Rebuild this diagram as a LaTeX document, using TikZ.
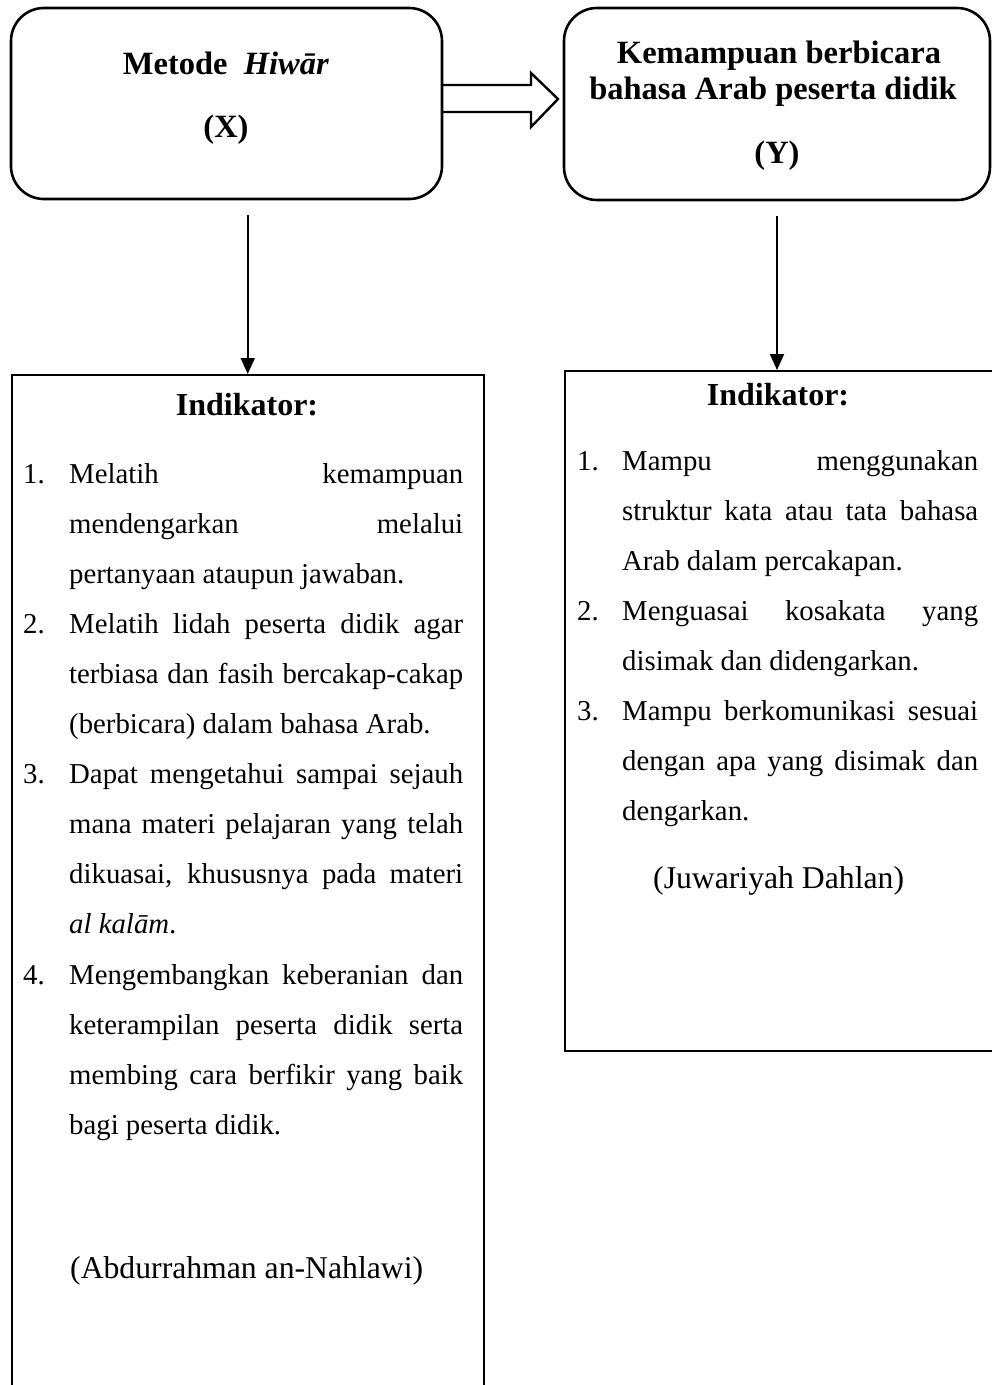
\documentclass[tikz,border=0pt]{standalone}
\usepackage{fontspec}
\setmainfont{Liberation Serif}
\usetikzlibrary{arrows.meta}
\tikzset{
  topbox/.style={draw, line width=2.6pt, rounded corners=33pt, inner sep=0pt},
  indbox/.style={draw, line width=1.5pt, inner sep=0pt},
  ttl/.style={font=\fontsize{32.5}{36}\selectfont\bfseries, anchor=base, inner sep=0pt},
  indttl/.style={font=\fontsize{32}{36}\selectfont\bfseries, anchor=base, inner sep=0pt},
  num/.style={font=\fontsize{28.8}{50.1}\selectfont, anchor=base west, inner sep=0pt},
  itemL/.style={font=\fontsize{28.8}{50.1}\selectfont, anchor=base west, inner sep=0pt, text width=394pt, align=justify},
  itemR/.style={font=\fontsize{28.8}{50}\selectfont, anchor=base west, inner sep=0pt, text width=356pt, align=justify},
  src/.style={font=\fontsize{31.7}{36}\selectfont, anchor=base west, inner sep=0pt},
  arr/.style={line width=2pt, -{Triangle[width=14pt,length=16pt]}},
  dblarr/.style={draw, line width=2.4pt, line join=miter}
}
\begin{document}
\tolerance=10000 \hbadness=10000 \hyphenpenalty=10000 \exhyphenpenalty=10000
\begin{tikzpicture}[x=1pt,y=-1pt]
\useasboundingbox (0,0) rectangle (992,1385);
% top boxes
\node[topbox, minimum width=431pt, minimum height=191pt] (topL) at (226.5,103.5) {};
\node[topbox, minimum width=426pt, minimum height=192pt] (topR) at (777,104) {};
\node[ttl] (tL1) at (226,74) {Metode\ \ \textit{Hiwār}};
\node[ttl] (tL2) at (226,137) {(X)};
\node[ttl] (tR1) at (779,63) {Kemampuan berbicara};
\node[ttl] (tR2) at (773,99) {bahasa Arab peserta didik};
\node[ttl] (tR3) at (777,163) {(Y)};
% double arrow
\draw[dblarr] (443,85) -- (531,85) -- (531,73) -- (558,99) -- (531,127) -- (531,112) -- (443,112);
% indicator boxes
\node[indbox, minimum width=472pt, minimum height=1030pt, anchor=north west] (indL) at (11,374) {};
\node[indbox, minimum width=432pt, minimum height=680pt, anchor=north west] (indR) at (564,370) {};
% arrows
\draw[arr, shorten <=15pt] (indL.north |- topL.south) -- (indL.north);
\draw[arr, shorten <=15pt] (topR.south) -- (topR.south |- indR.north);
% left content
\node[indttl] (hL) at (247,415) {Indikator:};
\node[num] (nL1) at (23,483) {1.};
\node[itemL] (iL1) at (69,483) {Melatih kemampuan\linebreak mendengarkan melalui\linebreak pertanyaan ataupun jawaban.};
\node[num] (nL2) at (23,633.3) {2.};
\node[itemL] (iL2) at (69,633.3) {Melatih lidah peserta didik agar\linebreak terbiasa dan fasih bercakap-cakap\linebreak (berbicara) dalam bahasa Arab.};
\node[num] (nL3) at (23,783.6) {3.};
\node[itemL] (iL3) at (69,783.6) {Dapat mengetahui sampai sejauh\linebreak mana materi pelajaran yang telah\linebreak dikuasai, khususnya pada materi\linebreak \textit{al kalām}.};
\node[num] (nL4) at (23,984) {4.};
\node[itemL] (iL4) at (69,984) {Mengembangkan keberanian dan\linebreak keterampilan peserta didik serta\linebreak membing cara berfikir yang baik\linebreak bagi peserta didik.};
\node[src] (sL) at (70,1278) {(Abdurrahman an-Nahlawi)};
% right content
\node[indttl] (hR) at (778,405) {Indikator:};
\node[num] (nR1) at (577,470) {1.};
\node[itemR] (iR1) at (622,470) {Mampu menggunakan\linebreak struktur kata atau tata bahasa\linebreak Arab dalam percakapan.};
\node[num] (nR2) at (577,620) {2.};
\node[itemR] (iR2) at (622,620) {Menguasai kosakata yang\linebreak disimak dan didengarkan.};
\node[num] (nR3) at (577,720) {3.};
\node[itemR] (iR3) at (622,720) {Mampu berkomunikasi sesuai\linebreak dengan apa yang disimak dan\linebreak dengarkan.};
\node[src] (sR) at (653,888) {(Juwariyah Dahlan)};
\end{tikzpicture}
\end{document}
